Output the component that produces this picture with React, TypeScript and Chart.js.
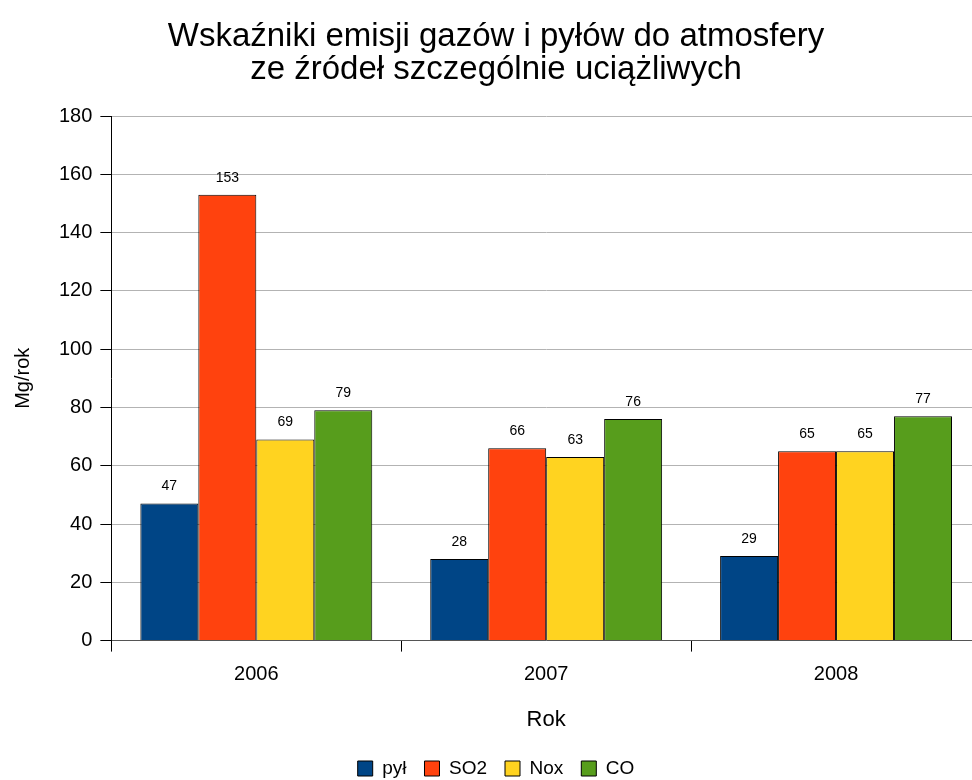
import React, { useEffect, useRef } from "react";
import { Chart, registerables } from "chart.js";

Chart.register(...registerables);

const titleLines = ["Wskaźniki emisji gazów i pyłów do atmosfery", "ze źródeł szczególnie uciążliwych"];
const categories = ["2006", "2007", "2008"];
const seriesNames = ["pył", "SO2", "Nox", "CO"];
const pylValues = [47, 28, 29];
const so2Values = [153, 66, 65];
const noxValues = [69, 63, 65];
const coValues = [79, 76, 77];
const seriesColors = ["#004586", "#ff420e", "#ffd320", "#579d1c"];
const yTitle = "Mg/rok";
const xTitle = "Rok";
const yMin = 0;
const yMax = 180;
const yStep = 20;

const FONT = "'Liberation Sans', Arial, sans-serif";

const valueLabels = {
  id: "valueLabels",
  afterDatasetsDraw(chart: any) {
    const ctx = chart.ctx;
    ctx.save();
    ctx.font = `14px ${FONT}`;
    ctx.fillStyle = "#000";
    ctx.textAlign = "center";
    ctx.textBaseline = "middle";
    chart.data.datasets.forEach((ds: any, i: number) => {
      const meta = chart.getDatasetMeta(i);
      meta.data.forEach((bar: any, j: number) => {
        ctx.fillText(String(ds.data[j]), bar.x, bar.y - 17);
      });
    });
    ctx.restore();
  },
};

export default function App() {
  const ref = useRef<HTMLCanvasElement>(null);
  useEffect(() => {
    const values = [pylValues, so2Values, noxValues, coValues];
    const chart = new Chart(ref.current!, {
      type: "bar",
      data: {
        labels: categories,
        datasets: seriesNames.map((name, i) => ({
          label: name,
          data: values[i],
          backgroundColor: seriesColors[i],
          borderColor: "#000",
          borderWidth: 1,
          barPercentage: 1,
          categoryPercentage: 0.8,
        })),
      },
      options: {
        animation: false,
        responsive: false,
        maintainAspectRatio: false,
        layout: { padding: { left: 11, right: 9, top: 0, bottom: -8 } },
        plugins: {
          title: {
            display: true,
            text: titleLines,
            color: "#000",
            font: { family: FONT, size: 33, weight: "normal", lineHeight: 1.0 },
            padding: { top: 20, bottom: 30 },
          },
          legend: {
            position: "bottom",
            labels: {
              color: "#000",
              font: { family: FONT, size: 19 },
              boxWidth: 15,
              boxHeight: 15,
              padding: 18,
              generateLabels: (chart: any) =>
                chart.data.datasets.map((ds: any, i: number) => ({
                  text: ds.label,
                  fillStyle: ds.backgroundColor,
                  strokeStyle: "#000",
                  lineWidth: 1,
                  datasetIndex: i,
                  fontColor: "#000",
                })),
            },
          },
          tooltip: { enabled: false },
        },
        scales: {
          x: {
            offset: true,
            grid: {
              display: true,
              drawOnChartArea: false,
              drawTicks: true,
              tickLength: 11,
              color: "#000",
              offset: true,
            },
            border: { display: true, color: "#555" },
            ticks: { color: "#000", font: { family: FONT, size: 20 }, padding: 11 },
            title: {
              display: true,
              text: xTitle,
              color: "#000",
              font: { family: FONT, size: 22 },
              padding: { top: 9, bottom: 8 },
            },
          },
          y: {
            min: yMin,
            max: yMax,
            grid: {
              color: "#b3b3b3",
              tickColor: "#000",
              tickLength: 11,
            },
            border: { display: true, color: "#000" },
            ticks: { stepSize: yStep, color: "#000", font: { family: FONT, size: 20 }, padding: 8 },
            title: {
              display: true,
              text: yTitle,
              color: "#000",
              font: { family: FONT, size: 20 },
              padding: { top: 0, bottom: 16 },
            },
          },
        },
      },
      plugins: [valueLabels],
    });
    return () => chart.destroy();
  }, []);
  return (
    <div style={{ position: "fixed", left: 0, top: 0, width: 972, height: 780, overflow: "hidden", background: "#fff" }}>
      <canvas ref={ref} width={990} height={780} style={{ display: "block" }} />
    </div>
  );
}
